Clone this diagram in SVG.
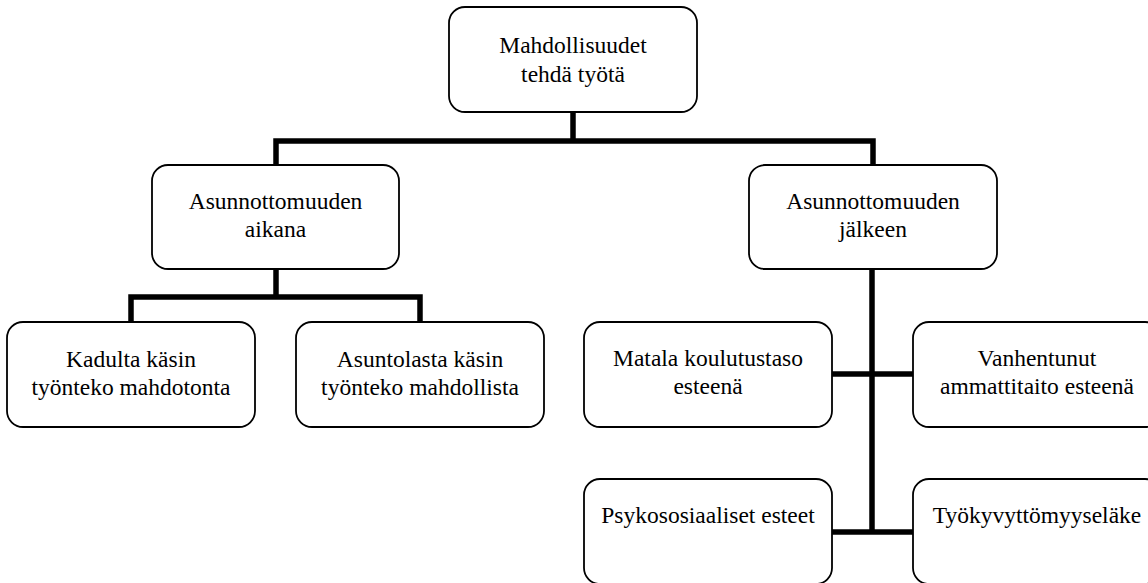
<svg xmlns="http://www.w3.org/2000/svg" width="1148" height="583" viewBox="0 0 1148 583">
<style>
.box{fill:#fff;stroke:#000;stroke-width:1.8}
.con{fill:none;stroke:#000;stroke-width:5.5;stroke-linejoin:miter;stroke-linecap:butt}
</style>
<rect width="1148" height="583" fill="#fff"/>
<g id="connectors">
<path class="con" d="M573,112 V141"/>
<path class="con" d="M276,165 V141 H873 V165"/>
<path class="con" d="M276,269 V297"/>
<path class="con" d="M131,322 V297 H420 V322"/>
<path class="con" d="M872,269 V532"/>
<path class="con" d="M832,374 H913"/>
<path class="con" d="M832,532 H913"/>
</g>
<g id="n-top">
<rect class="box" x="449" y="7" width="248" height="105" rx="16"/>
<text style="font-family:'Times New Roman','Liberation Serif',serif;font-size:23.5px;text-anchor:middle" x="573" y="53">Mahdollisuudet</text>
<text style="font-family:'Times New Roman','Liberation Serif',serif;font-size:23.5px;text-anchor:middle" x="573" y="82">tehdä työtä</text>
</g>
<g id="n-aikana">
<rect class="box" x="152" y="165" width="247" height="104" rx="16"/>
<text style="font-family:'Liberation Serif';font-size:23.5px;text-anchor:middle" x="275.5" y="209">Asunnottomuuden</text>
<text style="font-family:'Liberation Serif';font-size:23.5px;text-anchor:middle" x="275.5" y="237">aikana</text>
</g>
<g id="n-jalkeen">
<rect class="box" x="749" y="165" width="248" height="104" rx="16"/>
<text style="font-family:serif;font-size:23.5px;text-anchor:middle" x="873" y="209">Asunnottomuuden</text>
<text style="font-family:serif;font-size:23.5px;text-anchor:middle" x="873" y="237">jälkeen</text>
</g>
<g id="n-kadulta">
<rect class="box" x="7" y="322" width="248" height="105" rx="16"/>
<text style="font-family:'Liberation Serif',serif;font-size:23.5px;text-anchor:middle" x="131" y="366.5">Kadulta käsin</text>
<text style="font-family:'Liberation Serif',serif;font-size:23.5px;text-anchor:middle" x="131" y="394.5">työnteko mahdotonta</text>
</g>
<g id="n-asuntola">
<rect class="box" x="296" y="322" width="248" height="105" rx="16"/>
<text style="font-family:'Liberation Serif',serif;font-size:23.5px;text-anchor:middle" x="420" y="366.5">Asuntolasta käsin</text>
<text style="font-family:'Liberation Serif',serif;font-size:23.5px;text-anchor:middle" x="420" y="394.5">työnteko mahdollista</text>
</g>
<g id="n-matala">
<rect class="box" x="584" y="322" width="248" height="105" rx="16"/>
<text style="font-family:'Liberation Serif',serif;font-size:23.5px;text-anchor:middle" x="708" y="365.5">Matala koulutustaso</text>
<text style="font-family:'Liberation Serif',serif;font-size:23.5px;text-anchor:middle" x="708" y="393.5">esteenä</text>
</g>
<g id="n-vanhentunut">
<rect class="box" x="913" y="322" width="248" height="105" rx="16"/>
<text style="font-family:'Liberation Serif',serif;font-size:23.5px;text-anchor:middle" x="1037" y="365.5">Vanhentunut</text>
<text style="font-family:'Liberation Serif',serif;font-size:23.5px;text-anchor:middle" x="1037" y="393.5">ammattitaito esteenä</text>
</g>
<g id="n-psyko">
<rect class="box" x="584" y="479" width="248" height="105" rx="16"/>
<text style="font-family:'Liberation Serif',serif;font-size:23.5px;text-anchor:middle" x="708" y="522.5">Psykososiaaliset esteet</text>
</g>
<g id="n-tyokyvyttomyys">
<rect class="box" x="913" y="479" width="248" height="105" rx="16"/>
<text style="font-family:'Liberation Serif',serif;font-size:23.5px;text-anchor:middle" x="1037" y="522.5">Työkyvyttömyyseläke</text>
</g>
</svg>
